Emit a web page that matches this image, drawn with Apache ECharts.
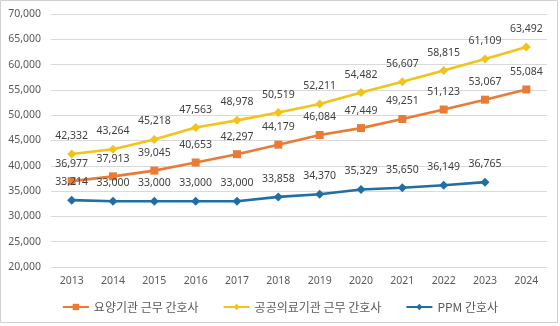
<!DOCTYPE html>
<html>
<head>
<meta charset="utf-8">
<script src="https://cdn.jsdelivr.net/npm/echarts@6/dist/echarts.min.js"></script>
<style>
  html, body { margin: 0; padding: 0; background: #fff; }
  #chart { width: 560px; height: 326px; }
</style>
</head>
<body>
<div id="chart"></div>
<script>
// Years on the category axis
const years = ['2013', '2014', '2015', '2016', '2017', '2018', '2019', '2020', '2021', '2022', '2023', '2024'];

// Nurse headcounts per series
const careInstitutionNurses = [36977, 37913, 39045, 40653, 42297, 44179, 46084, 47449, 49251, 51123, 53067, 55084];
const publicHospitalNurses = [42332, 43264, 45218, 47563, 48978, 50519, 52211, 54482, 56607, 58815, 61109, 63492];
const ppmNurses = [33214, 33000, 33000, 33000, 33000, 33858, 34370, 35329, 35650, 36149, 36765];

const seriesNames = ['요양기관 근무 간호사', '공공의료기관 근무 간호사', 'PPM 간호사'];

// Value axis range
const yMin = 20000;
const yMax = 70000;
const yStep = 5000;

const numFont = '"Noto Sans", sans-serif';
const fmt = v => v.toLocaleString('en-US');

function lineSeries(name, data, color, symbol, size) {
  return {
    name: name,
    type: 'line',
    data: data,
    symbol: symbol,
    symbolSize: size,
    lineStyle: { color: color, width: 2.6 },
    itemStyle: { color: color },
    label: {
      show: true,
      position: 'top',
      distance: 8,
      color: '#404040',
      fontFamily: numFont,
      fontSize: 10.5,
      formatter: p => fmt(p.value)
    },
    animation: false
  };
}

const chart = echarts.init(document.getElementById('chart'), null, { renderer: 'canvas' });
chart.setOption({
  backgroundColor: '#ffffff',
  grid: { left: 51, right: 13, top: 14, bottom: 59, containLabel: false },
  xAxis: {
    type: 'category',
    data: years,
    boundaryGap: true,
    axisLine: { show: false },
    axisTick: { show: false },
    axisLabel: { color: '#595959', fontFamily: numFont, fontSize: 10.5, margin: 9 }
  },
  yAxis: {
    type: 'value',
    min: yMin,
    max: yMax,
    interval: yStep,
    axisLine: { show: false },
    axisTick: { show: false },
    axisLabel: { color: '#595959', fontFamily: numFont, fontSize: 10.5, margin: 10, formatter: v => fmt(v) },
    splitLine: { lineStyle: { color: '#d9d9d9', width: 1 } }
  },
  legend: {
    bottom: 8,
    left: 'center',
    itemWidth: 26,
    itemHeight: 8,
    itemGap: 24,
    textStyle: { color: '#595959', fontFamily: '"Noto Sans CJK KR", sans-serif', fontSize: 12 },
    data: seriesNames
  },
  graphic: [{
    type: 'rect',
    shape: { x: 0.5, y: 0.5, width: 557, height: 322 },
    style: { fill: 'none', stroke: '#d0d0d0', lineWidth: 1 },
    silent: true
  }],
  series: [
    lineSeries(seriesNames[0], careInstitutionNurses, '#E97B35', 'rect', 8),
    lineSeries(seriesNames[1], publicHospitalNurses, '#F3C31A', 'diamond', 9),
    lineSeries(seriesNames[2], ppmNurses, '#1F6EA6', 'diamond', 9)
  ]
});
</script>
</body>
</html>
